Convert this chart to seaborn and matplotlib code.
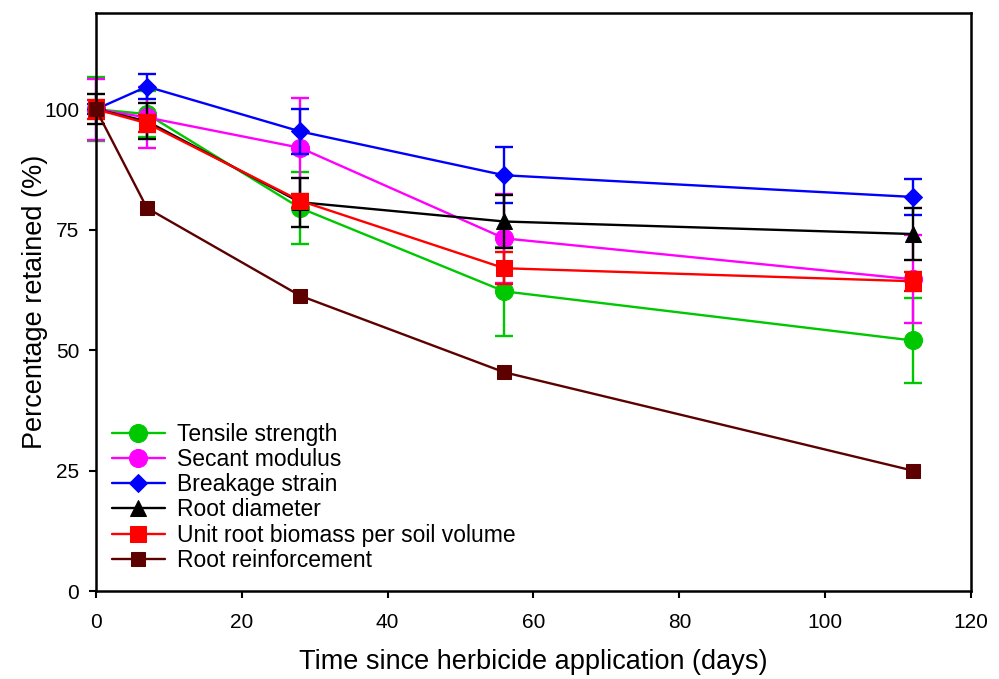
import matplotlib
matplotlib.use("Agg")
import matplotlib.pyplot as plt
import seaborn as sns
import pandas as pd

days = [0, 7, 28, 56, 112]

tensile = [100, 99.0, 79.5, 62.2, 52.0]
tensile_err = [6.6, 4.8, 7.5, 9.3, 8.8]

secant = [100, 98.3, 92.0, 73.2, 64.7]
secant_err = [6.3, 6.4, 10.4, 9.3, 9.1]

breakage = [100, 104.7, 95.4, 86.3, 81.8]
breakage_err = [1.0, 2.6, 4.7, 5.8, 3.8]

diameter = [100, 97.5, 80.7, 76.7, 74.1]
diameter_err = [3.1, 3.7, 5.1, 5.5, 5.3]

biomass = [100, 97.1, 81.0, 67.0, 64.3]
biomass_err = [2.0, 1.8, 1.5, 3.3, 2.0]

reinforcement = [100, 79.5, 61.3, 45.4, 25.0]

labels = ["Tensile strength", "Secant modulus", "Breakage strain",
          "Root diameter", "Unit root biomass per soil volume",
          "Root reinforcement"]

sns.set_theme(style="ticks")
plt.rcParams['font.family'] = ['Liberation Sans', 'DejaVu Sans']
plt.rcParams['text.color'] = 'black'
plt.rcParams['axes.labelcolor'] = 'black'

fig = plt.figure(figsize=(9.99, 6.79), dpi=100)
ax = fig.add_axes([0.096, 0.1296, 0.876, 0.8514])

series = [
    (tensile, tensile_err, "#00c800", "o", 13),
    (secant, secant_err, "#ff00ff", "o", 13),
    (breakage, breakage_err, "#0000ff", "D", 9.5),
    (diameter, diameter_err, "#000000", "^", 11),
    (biomass, biomass_err, "#ff0000", "s", 11),
    (reinforcement, None, "#5c0000", "s", 9.5),
]

for i, (vals, errs, color, marker, ms) in enumerate(series):
    df = pd.DataFrame({"day": days, "value": vals})
    if errs is not None:
        eb = ax.errorbar(days, vals, yerr=errs, fmt="none", ecolor=color,
                         elinewidth=1.7, capsize=6.5, capthick=1.7,
                         zorder=2 + i * 0.1)
        for art in eb.get_children():
            art.set_clip_on(False)
    sns.lineplot(data=df, x="day", y="value", ax=ax, color=color,
                 marker=marker, markersize=ms, markeredgecolor=color,
                 linewidth=1.7, label=labels[i], clip_on=False,
                 zorder=2.05 + i * 0.1)

ax.set_xlim(0, 120)
ax.set_ylim(0, 120)
ax.set_xticks([0, 20, 40, 60, 80, 100, 120])
ax.set_yticks([0, 25, 50, 75, 100])
ax.tick_params(axis="both", direction="out", length=5, width=1.5,
               labelsize=15, color="black", labelcolor="black")
ax.tick_params(axis="x", pad=11)
ax.tick_params(axis="y", pad=7)
for sp in ax.spines.values():
    sp.set_linewidth(1.8)
    sp.set_color("black")
ax.set_xlabel("Time since herbicide application (days)", fontsize=19.5, labelpad=12)
ax.set_ylabel("Percentage retained (%)", fontsize=19.5, labelpad=-3)

ax.legend(loc="lower left", bbox_to_anchor=(0.008, 0.017), frameon=False,
          fontsize=16.5, handlelength=2.3, handletextpad=0.55,
          labelspacing=0.1, borderaxespad=0.0)

fig.savefig("out.png", dpi=100)
